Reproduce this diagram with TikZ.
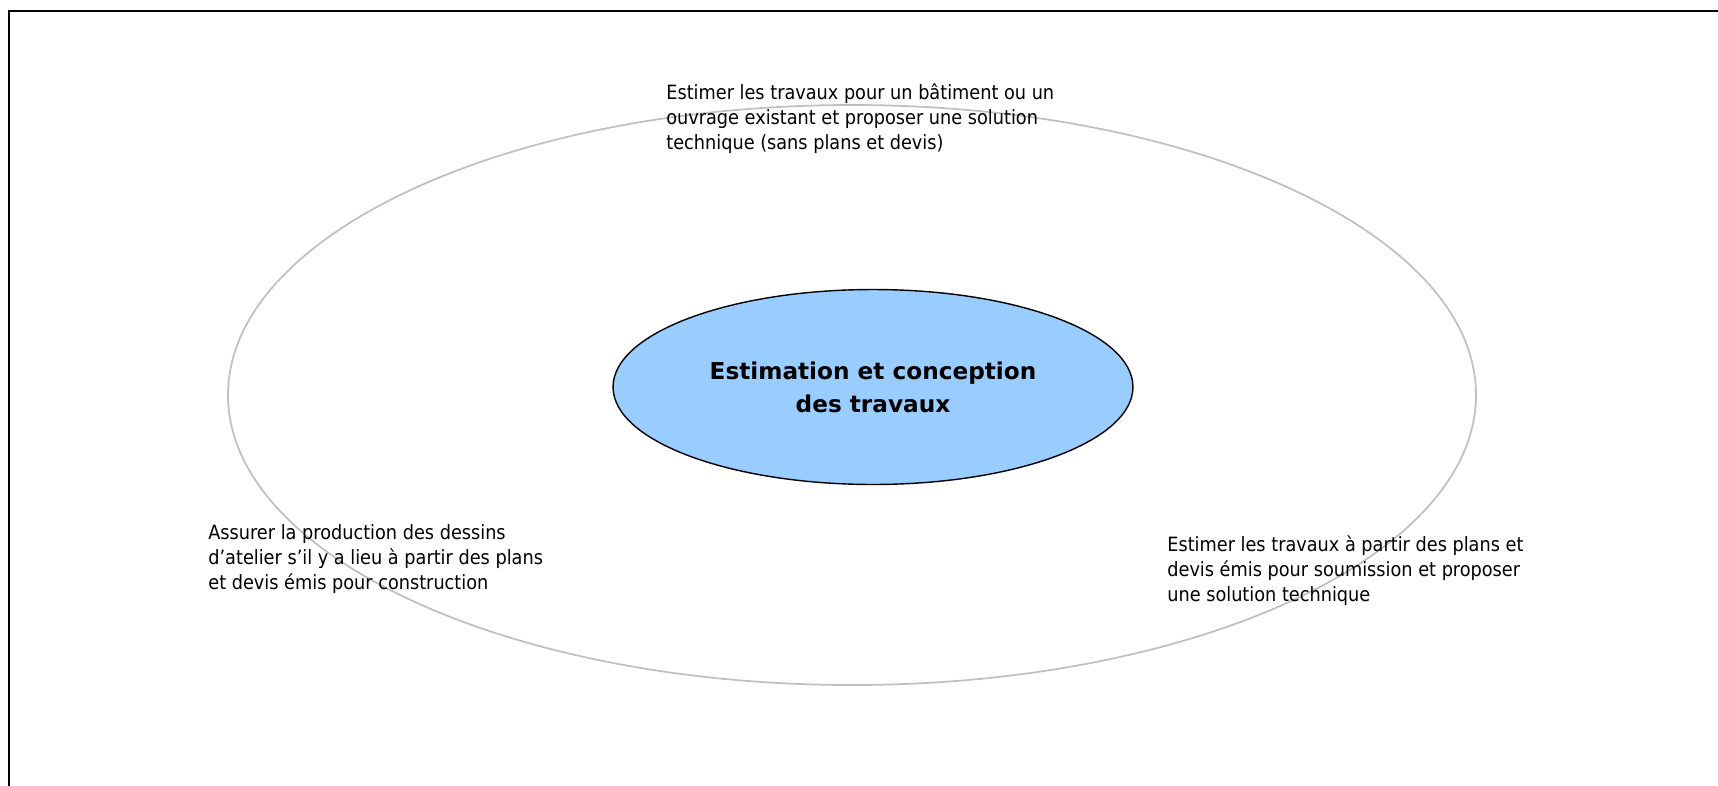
\documentclass[tikz,border=0pt]{standalone}
\usepackage{fontspec}
\setmainfont{DejaVu Sans Condensed}
\newfontfamily\corefont{DejaVu Sans}
\usetikzlibrary{shapes.geometric}
\definecolor{coreblue}{HTML}{99CCFF}
\definecolor{ringgray}{HTML}{C0C0C0}
\tikzstyle{outer ring}=[draw=ringgray, line width=1pt]
\tikzstyle{core}=[ellipse, draw=black, line width=0.8pt, fill=coreblue,
  minimum width=10.4cm, minimum height=3.9cm, inner sep=0pt,
  align=center, font=\corefont\fontsize{13.2}{18.8}\selectfont\bfseries]
\tikzstyle{task text}=[anchor=base west, inner sep=0pt, align=left,
  font=\fontsize{11.2}{14.2}\selectfont]

\begin{document}
\begin{tikzpicture}[x=0.02cm, y=-0.02cm]
  \useasboundingbox (0,0) rectangle (1718,785);
  % page frame
  \draw[line width=1.1pt] (9.3,800) -- (9.3,11) -- (1730,11);
  % outer ring
  \draw[outer ring] (852,395) ellipse [x radius=624, y radius=290];
  % centre
  \node[core] (core) at (873,387) {Estimation et conception\\des travaux};
  % tasks round the ring (anchored on the last line)
  \node[task text] (existing) at (666,149) {Estimer les travaux pour un bâtiment ou un\\ouvrage existant et proposer une solution\\technique (sans plans et devis)};
  \node[task text] (shop) at (208,589) {Assurer la production des dessins\\d’atelier s’il y a lieu à partir des plans\\et devis émis pour construction};
  \node[task text] (tender) at (1167,601) {Estimer les travaux à partir des plans et\\devis émis pour soumission et proposer\\une solution technique};
\end{tikzpicture}
\end{document}
